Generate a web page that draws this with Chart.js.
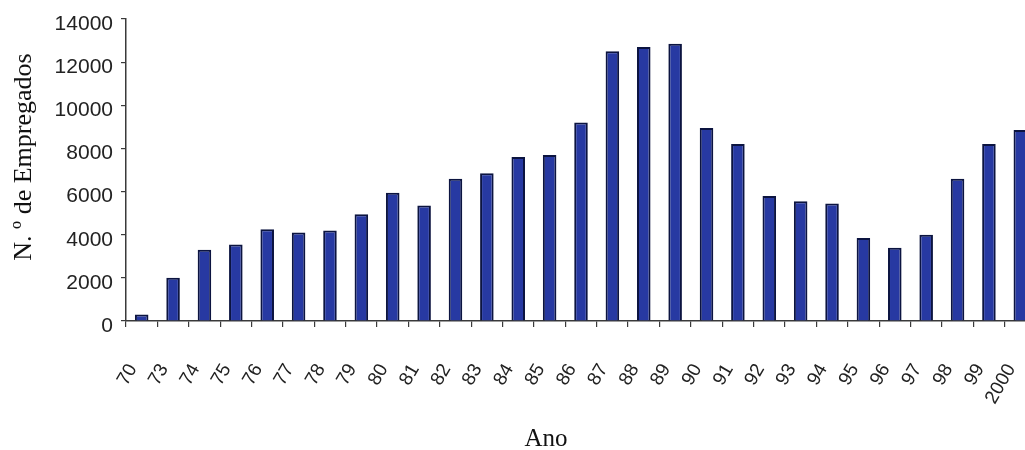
<!DOCTYPE html>
<html lang="pt">
<head>
<meta charset="utf-8">
<title>N.º de Empregados por Ano</title>
<script src="https://cdn.jsdelivr.net/npm/chart.js@4.4.1/dist/chart.umd.min.js"></script>
<style>
  html, body { margin: 0; padding: 0; background: #ffffff; }
  #wrap { width: 1025px; height: 450px; overflow: hidden; position: relative; }
  #chart { display: block; }
</style>
</head>
<body>
<div id="wrap"><canvas id="chart" width="1045" height="450"></canvas></div>
<script>
// Anos (rótulos do eixo X)
const anos = ['70', '73', '74', '75', '76', '77', '78', '79', '80', '81', '82', '83', '84', '85', '86',
              '87', '88', '89', '90', '91', '92', '93', '94', '95', '96', '97', '98', '99', '2000'];

// Número de empregados em cada ano
const empregados = [300, 2000, 3300, 3550, 4250, 4100, 4200, 4950, 5950, 5350, 6600, 6850, 7600, 7700, 9200,
                    12500, 12700, 12850, 8950, 8200, 5800, 5550, 5450, 3850, 3400, 4000, 6600, 8200, 8850];

// Escala vertical
const yMin = 0;
const yMax = 14000;
const yPasso = 2000;

const tituloY = 'N. º de Empregados';
const tituloX = 'Ano';

// Títulos dos eixos desenhados por cima do gráfico
const titulosEixos = {
  id: 'titulosEixos',
  afterDraw(chart) {
    const ctx = chart.ctx;
    const area = chart.chartArea;
    ctx.save();
    ctx.fillStyle = '#111111';
    ctx.font = '26px "Liberation Serif", "Times New Roman", serif';
    ctx.textAlign = 'center';
    ctx.textBaseline = 'middle';
    ctx.translate(24, area.top + 138);
    ctx.rotate(-Math.PI / 2);
    ctx.fillText(tituloY, 0, 0);
    ctx.restore();

    ctx.save();
    ctx.fillStyle = '#111111';
    ctx.font = '25px "Liberation Serif", "Times New Roman", serif';
    ctx.textAlign = 'center';
    ctx.textBaseline = 'alphabetic';
    ctx.fillText(tituloX, area.left + 420, 446);
    ctx.restore();
  }
};

const fonteEixos = '"Liberation Sans", Arial, sans-serif';

new Chart(document.getElementById('chart'), {
  type: 'bar',
  data: {
    labels: anos,
    datasets: [{
      data: empregados,
      backgroundColor: '#2739a2',
      borderColor: '#0c1440',
      borderWidth: 2,
      borderSkipped: 'bottom',
      barPercentage: 0.9,
      categoryPercentage: 0.48
    }]
  },
  options: {
    responsive: false,
    animation: false,
    layout: { padding: { top: 19, right: 9, bottom: 0, left: 0 } },
    plugins: {
      legend: { display: false },
      tooltip: { enabled: false }
    },
    scales: {
      x: {
        offset: true,
        border: { display: true, color: '#3a3a3a', width: 1.5 },
        grid: {
          display: true,
          offset: true,
          drawOnChartArea: false,
          drawTicks: true,
          tickLength: 6,
          color: '#3a3a3a',
          lineWidth: 1.2
        },
        ticks: {
          autoSkip: false,
          minRotation: 60,
          maxRotation: 60,
          padding: 33,
          labelOffset: -9,
          color: '#222222',
          font: { family: fonteEixos, size: 19 }
        },
        afterFit(scale) {
          scale.height = 129;
          scale.paddingLeft = 0;
          scale.paddingRight = 0;
        }
      },
      y: {
        min: yMin,
        max: yMax,
        border: { display: true, color: '#3a3a3a', width: 1.5 },
        grid: {
          display: true,
          drawOnChartArea: false,
          drawTicks: true,
          tickLength: 5,
          color: '#3a3a3a',
          lineWidth: 1.2
        },
        ticks: {
          stepSize: yPasso,
          padding: 8,
          labelOffset: 5,
          color: '#222222',
          font: { family: fonteEixos, size: 21 },
          callback: (v) => String(v)
        },
        afterFit(scale) {
          scale.width = 126;
          scale.paddingTop = 0;
          scale.paddingBottom = 0;
        }
      }
    }
  },
  plugins: [titulosEixos]
});
</script>
</body>
</html>
